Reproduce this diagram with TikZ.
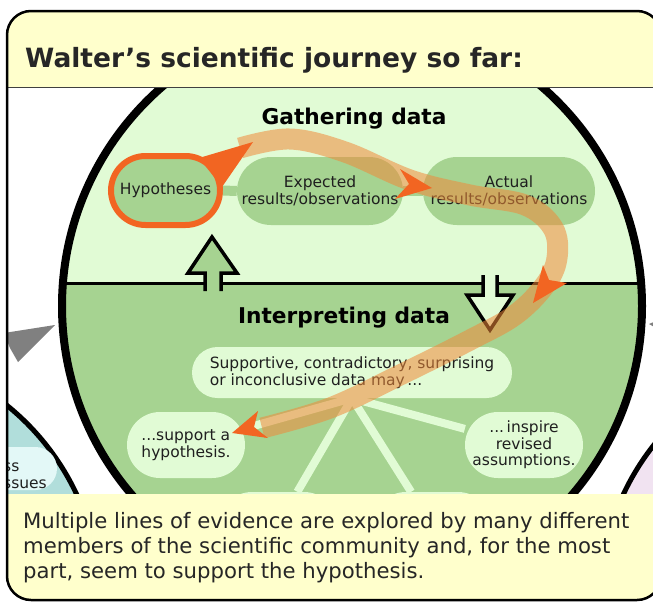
\documentclass[tikz,border=0pt]{standalone}
\usepackage{fontspec}
\setmainfont{DejaVu Sans}
\definecolor{hdr}{HTML}{FFFFCC}
\definecolor{lgreen}{HTML}{E1FBD5}
\definecolor{mgreen}{HTML}{A6D391}
\definecolor{jorange}{HTML}{F26522}
\definecolor{bandc}{HTML}{F08A3A}
\definecolor{tealc}{HTML}{B1DEDB}
\definecolor{tealpill}{HTML}{E3F8F7}
\definecolor{lilac}{HTML}{F1E3F1}
\definecolor{grayarrow}{HTML}{808080}
\tikzset{
  pillbase/.style={inner sep=0pt, align=center, font=\fontsize{15.5}{16.5}\selectfont, text=black!88},
  pillg/.style={pillbase, fill=mgreen, rounded corners=34pt, minimum height=68pt},
  pilll/.style={pillbase, fill=lgreen, rounded corners=33pt, minimum height=66pt},
  fanline/.style={lgreen, line width=8pt},
  barline/.style={mgreen, line width=10pt},
  bigarrow/.style={draw=black, line width=3.5pt, miter limit=10},
  journey/.style={bandc, opacity=0.55, line width=21pt},
  jhead/.style={fill=jorange},
  heading/.style={font=\bfseries\fontsize{21.7}{26}\selectfont},
  captext/.style={anchor=base west, inner sep=0pt, font=\fontsize{21.2}{25}\selectfont, text=black!85},
}
\begin{document}
\begin{tikzpicture}[x=1pt,y=-1pt]
\useasboundingbox (0,0) rectangle (653,605);
\begin{scope}
  \clip[rounded corners=24pt] (7,11) rectangle (661,600);
  \fill[white] (0,0) rectangle (670,610);
  % side circles
  \draw[line width=5pt, fill=tealc] (-150,600) circle (250);
  \node[pillbase, fill=tealpill, rounded corners=21.5pt, minimum height=43pt, minimum width=94pt] (tp) at (10,468.5) {};
  \node[anchor=west, inner sep=0pt, align=left, font=\fontsize{15.5}{17}\selectfont, text=black!88] (tptext) at (3,476) {ss\\ssues};
  \draw[line width=5pt, fill=lilac] (850,600) circle (250);
  \fill[grayarrow] (55,325) -- (4,333) -- (10,348) -- (18,362) -- cycle;
  \fill[grayarrow] (649,324) -- (656,321) -- (656,328) -- cycle;
  % big circle
  \begin{scope}
    \clip (352,306) circle (290);
    \fill[lgreen] (0,0) rectangle (700,283);
    \fill[mgreen] (0,283) rectangle (700,700);
    \draw[line width=3pt] (0,283) -- (700,283);
  \end{scope}
  \draw[line width=8pt] (352,306) circle (290);
  % headings
  \node[heading] (gath) at (354,119) {Gathering data};
  \node[heading] (interp) at (344,318) {Interpreting data};
  % upper pills
  \node[pillg, draw=jorange, line width=6pt, minimum width=109pt, minimum height=69pt, rounded corners=34.5pt] (hyp) at (165.5,190.5) {Hypotheses};
  \node[pillg, minimum width=166pt] (expc) at (320,191) {Expected\\results/observations};
  \node[pillg, minimum width=172pt] (act) at (509,191) {Actual\\results/observations};
  \draw[barline] (hyp.east) -- (expc.west);
  \draw[barline] (expc.east) -- (act.west);
  % lower pills
  \node[pillbase, fill=lgreen, rounded corners=25.5pt, minimum height=51pt, minimum width=320pt, align=left] (sup) at (352,372.5) {Supportive, contradictory, surprising\\or inconclusive data may\,...};
  \node[pilll, minimum width=118pt, align=left] (supa) at (186,445) {...support a\\hypothesis.};
  \node[pilll, minimum width=118pt] (insp) at (524,445) {...\,inspire\\revised\\assumptions.};
  \node[pilll, minimum width=118pt] (pl) at (278,525) {};
  \node[pilll, minimum width=118pt] (pr) at (432,525) {};
  \draw[fanline] (sup.south) -- (supa);
  \draw[fanline] (sup.south) -- (insp);
  \draw[fanline] (sup.south) -- (pl);
  \draw[fanline] (sup.south) -- (pr);
  % block arrows between halves
  \fill[mgreen] (205,291) -- (205,273) -- (188,273) -- (212,237) -- (237,273) -- (221,273) -- (221,291) -- cycle;
  \draw[bigarrow] (205,291) -- (205,273) -- (188,273) -- (212,237) -- (237,273) -- (221,273) -- (221,291);
  \fill[lgreen] (483,275) -- (483,295) -- (467,295) -- (490,330) -- (513,295) -- (497,295) -- (497,275) -- cycle;
  \draw[bigarrow] (483,275) -- (483,295) -- (467,295) -- (490,330) -- (513,295) -- (497,295) -- (497,275);
  % journey band
  \coordinate (j0) at (240,148);
  \coordinate (j1) at (290,139);
  \coordinate (j2) at (345,152);
  \coordinate (j3) at (410,180);
  \coordinate (j4) at (470,195);
  \coordinate (j5) at (525,205);
  \coordinate (j6) at (553,228);
  \coordinate (j7) at (557,258);
  \coordinate (j8) at (545,285);
  \coordinate (j9) at (515,315);
  \coordinate (j10) at (470,340);
  \coordinate (j11) at (400,375);
  \coordinate (j12) at (330,408);
  \coordinate (j13) at (262,428);
  \draw[journey] plot[smooth, tension=0.6] coordinates {(j0) (j1) (j2) (j3) (j4) (j5) (j6) (j7) (j8) (j9) (j10) (j11) (j12) (j13)};
  \fill[jhead] (199,158) -- (253,142) -- (222,187) -- cycle;
  \fill[jhead] (432,188) -- (400,169) -- (409,184) -- (395,199) -- cycle;
  \fill[jhead] (533,303) -- (543,265) -- (549,280) -- (567,283) -- cycle;
  \fill[jhead] (232,433) -- (258,411) -- (254,427) -- (268,438) -- cycle;
  % header and caption bands
  \fill[hdr] (0,0) rectangle (670,87);
  \draw[black!75, line width=1pt] (0,87) -- (670,87);
  \fill[hdr] (0,494) rectangle (670,610);
\end{scope}
\draw[line width=2.5pt, rounded corners=24pt] (7,11) rectangle (661,600);
\node[anchor=base west, inner sep=0pt, font=\bfseries\fontsize{26.5}{30}\selectfont, text=black!85] (title) at (25,67) {Walter’s scientific journey so far:};
\node[captext] (cap1) at (23,528) {Multiple lines of evidence are explored by many different};
\node[captext] (cap2) at (23,553) {members of the scientific community and, for the most};
\node[captext] (cap3) at (23,578) {part, seem to support the hypothesis.};
\end{tikzpicture}
\end{document}
